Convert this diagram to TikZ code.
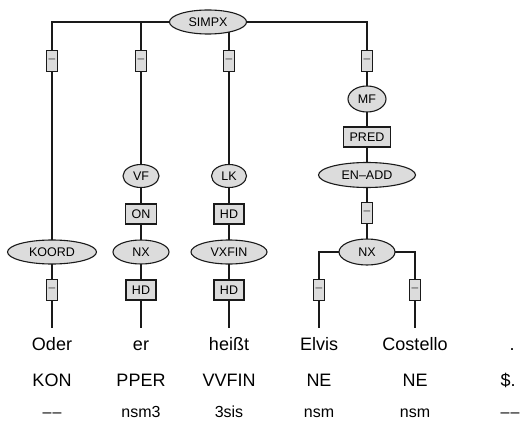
\documentclass[tikz,border=0pt]{standalone}
\usepackage{fontspec}
\setmainfont{Liberation Sans}
\usetikzlibrary{shapes.geometric,backgrounds}
\definecolor{nodefill}{HTML}{DCDCDC}
\definecolor{linecol}{HTML}{1A1A1A}
\tikzset{
  cat/.style={ellipse, draw=linecol, fill=nodefill, line width=1.1pt, inner sep=0pt,
    minimum height=24pt, font=\fontsize{12.5}{14}\selectfont},
  edgebox/.style={rectangle, draw=linecol, fill=nodefill, line width=1.1pt, inner sep=0pt,
    minimum height=20pt, inner xsep=6pt, font=\fontsize{12.5}{14}\selectfont},
  dashbox/.style={rectangle, draw=linecol, fill=nodefill, line width=1.1pt, inner sep=0pt,
    minimum width=11pt, minimum height=21pt, font=\fontsize{12}{13}\selectfont, text=black!75},
  word/.style={anchor=base, inner sep=0pt, inner ysep=8pt, text height=14pt, text depth=4pt,
    font=\fontsize{18}{20}\selectfont},
  postag/.style={anchor=base, inner sep=0pt, font=\fontsize{18}{20}\selectfont},
  morph/.style={anchor=base, inner sep=0pt, font=\fontsize{16}{18}\selectfont},
  conn/.style={draw=linecol, line width=1.1pt}
}
\newcommand{\twodash}{\textendash\kern1.2pt\textendash}
\begin{document}
\begin{tikzpicture}[x=1pt,y=-1pt]
\useasboundingbox (0,0) rectangle (521,422);
% top
\node[cat, minimum width=77pt] (simpx) at (208,22) {SIMPX};
\node[dashbox] (b1) at (52,61) {–};
\node[dashbox] (b2) at (141,61) {–};
\node[dashbox] (b3) at (229,61) {–};
\node[dashbox] (b4) at (367,61) {–};
% column 1
\node[cat, minimum width=89pt] (koord) at (52,252) {KOORD};
\node[dashbox] (b1b) at (52,290) {–};
% column 2
\node[cat, minimum width=36pt, minimum height=23pt] (vf) at (141,176) {VF};
\node[edgebox] (on) at (141,214) {ON};
\node[cat, minimum width=56pt] (nxa) at (141,252) {NX};
\node[edgebox] (hda) at (141,290) {HD};
% column 3
\node[cat, minimum width=35pt, minimum height=23pt] (lk) at (229,176) {LK};
\node[edgebox] (hdb) at (229,214) {HD};
\node[cat, minimum width=76pt] (vxfin) at (229,252) {VXFIN};
\node[edgebox] (hdc) at (229,290) {HD};
% column 4
\node[cat, minimum width=38pt, minimum height=26pt] (mf) at (367,99) {MF};
\node[edgebox] (pred) at (367,137) {PRED};
\node[cat, minimum width=97pt, minimum height=25pt] (enadd) at (367,175) {EN–ADD};
\node[dashbox] (b5) at (367,213) {–};
\node[cat, minimum width=56pt, minimum height=26pt] (nxb) at (367,252) {NX};
\node[dashbox] (b6) at (319,290) {–};
\node[dashbox] (b7) at (415,290) {–};
% words
\node[word] (w1) at (52,350) {Oder};
\node[word] (w2) at (141,350) {er};
\node[word] (w3) at (229,350) {heißt};
\node[word] (w4) at (319,350) {Elvis};
\node[word] (w5) at (415,350) {Costello};
\node[word] (w6) at (512,350) {.};
% POS
\node[postag] (p1) at (52,386) {KON};
\node[postag] (p2) at (141,386) {PPER};
\node[postag] (p3) at (229,386) {VVFIN};
\node[postag] (p4) at (319,386) {NE};
\node[postag] (p5) at (415,386) {NE};
\node[postag] (p6) at (508,386) {\$.};
% morph
\node[morph] (m1) at (52,417) {\twodash};
\node[morph] (m2) at (141,417) {nsm3};
\node[morph] (m3) at (229,417) {3sis};
\node[morph] (m4) at (319,417) {nsm};
\node[morph] (m5) at (415,417) {nsm};
\node[morph] (m6) at (510,417) {\twodash};
% connectors
\begin{pgfonlayer}{background}
\draw[conn] (simpx.center) -| (b1.center) -- (koord.center) -- (b1b.center) -- (b1b.center |- w1.north);
\draw[conn] (b2.center |- simpx.center) -- (b2.center) -- (vf.center) -- (on.center) -- (nxa.center) -- (hda.center) -- (hda.center |- w2.north);
\draw[conn] (b3.center |- simpx.center) -- (b3.center) -- (lk.center) -- (hdb.center) -- (vxfin.center |- hdb.center) -- (hdc.center) -- (hdc.center |- w3.north);
\draw[conn] (simpx.center) -| (b4.center) -- (mf.center) -- (pred.center) -- (enadd.center) -- (b5.center) -- (nxb.center);
\draw[conn] (nxb.center) -| (b6.center) -- (b6.center |- w4.north);
\draw[conn] (nxb.center) -| (b7.center) -- (b7.center |- w5.north);
\end{pgfonlayer}
\end{tikzpicture}
\end{document}
